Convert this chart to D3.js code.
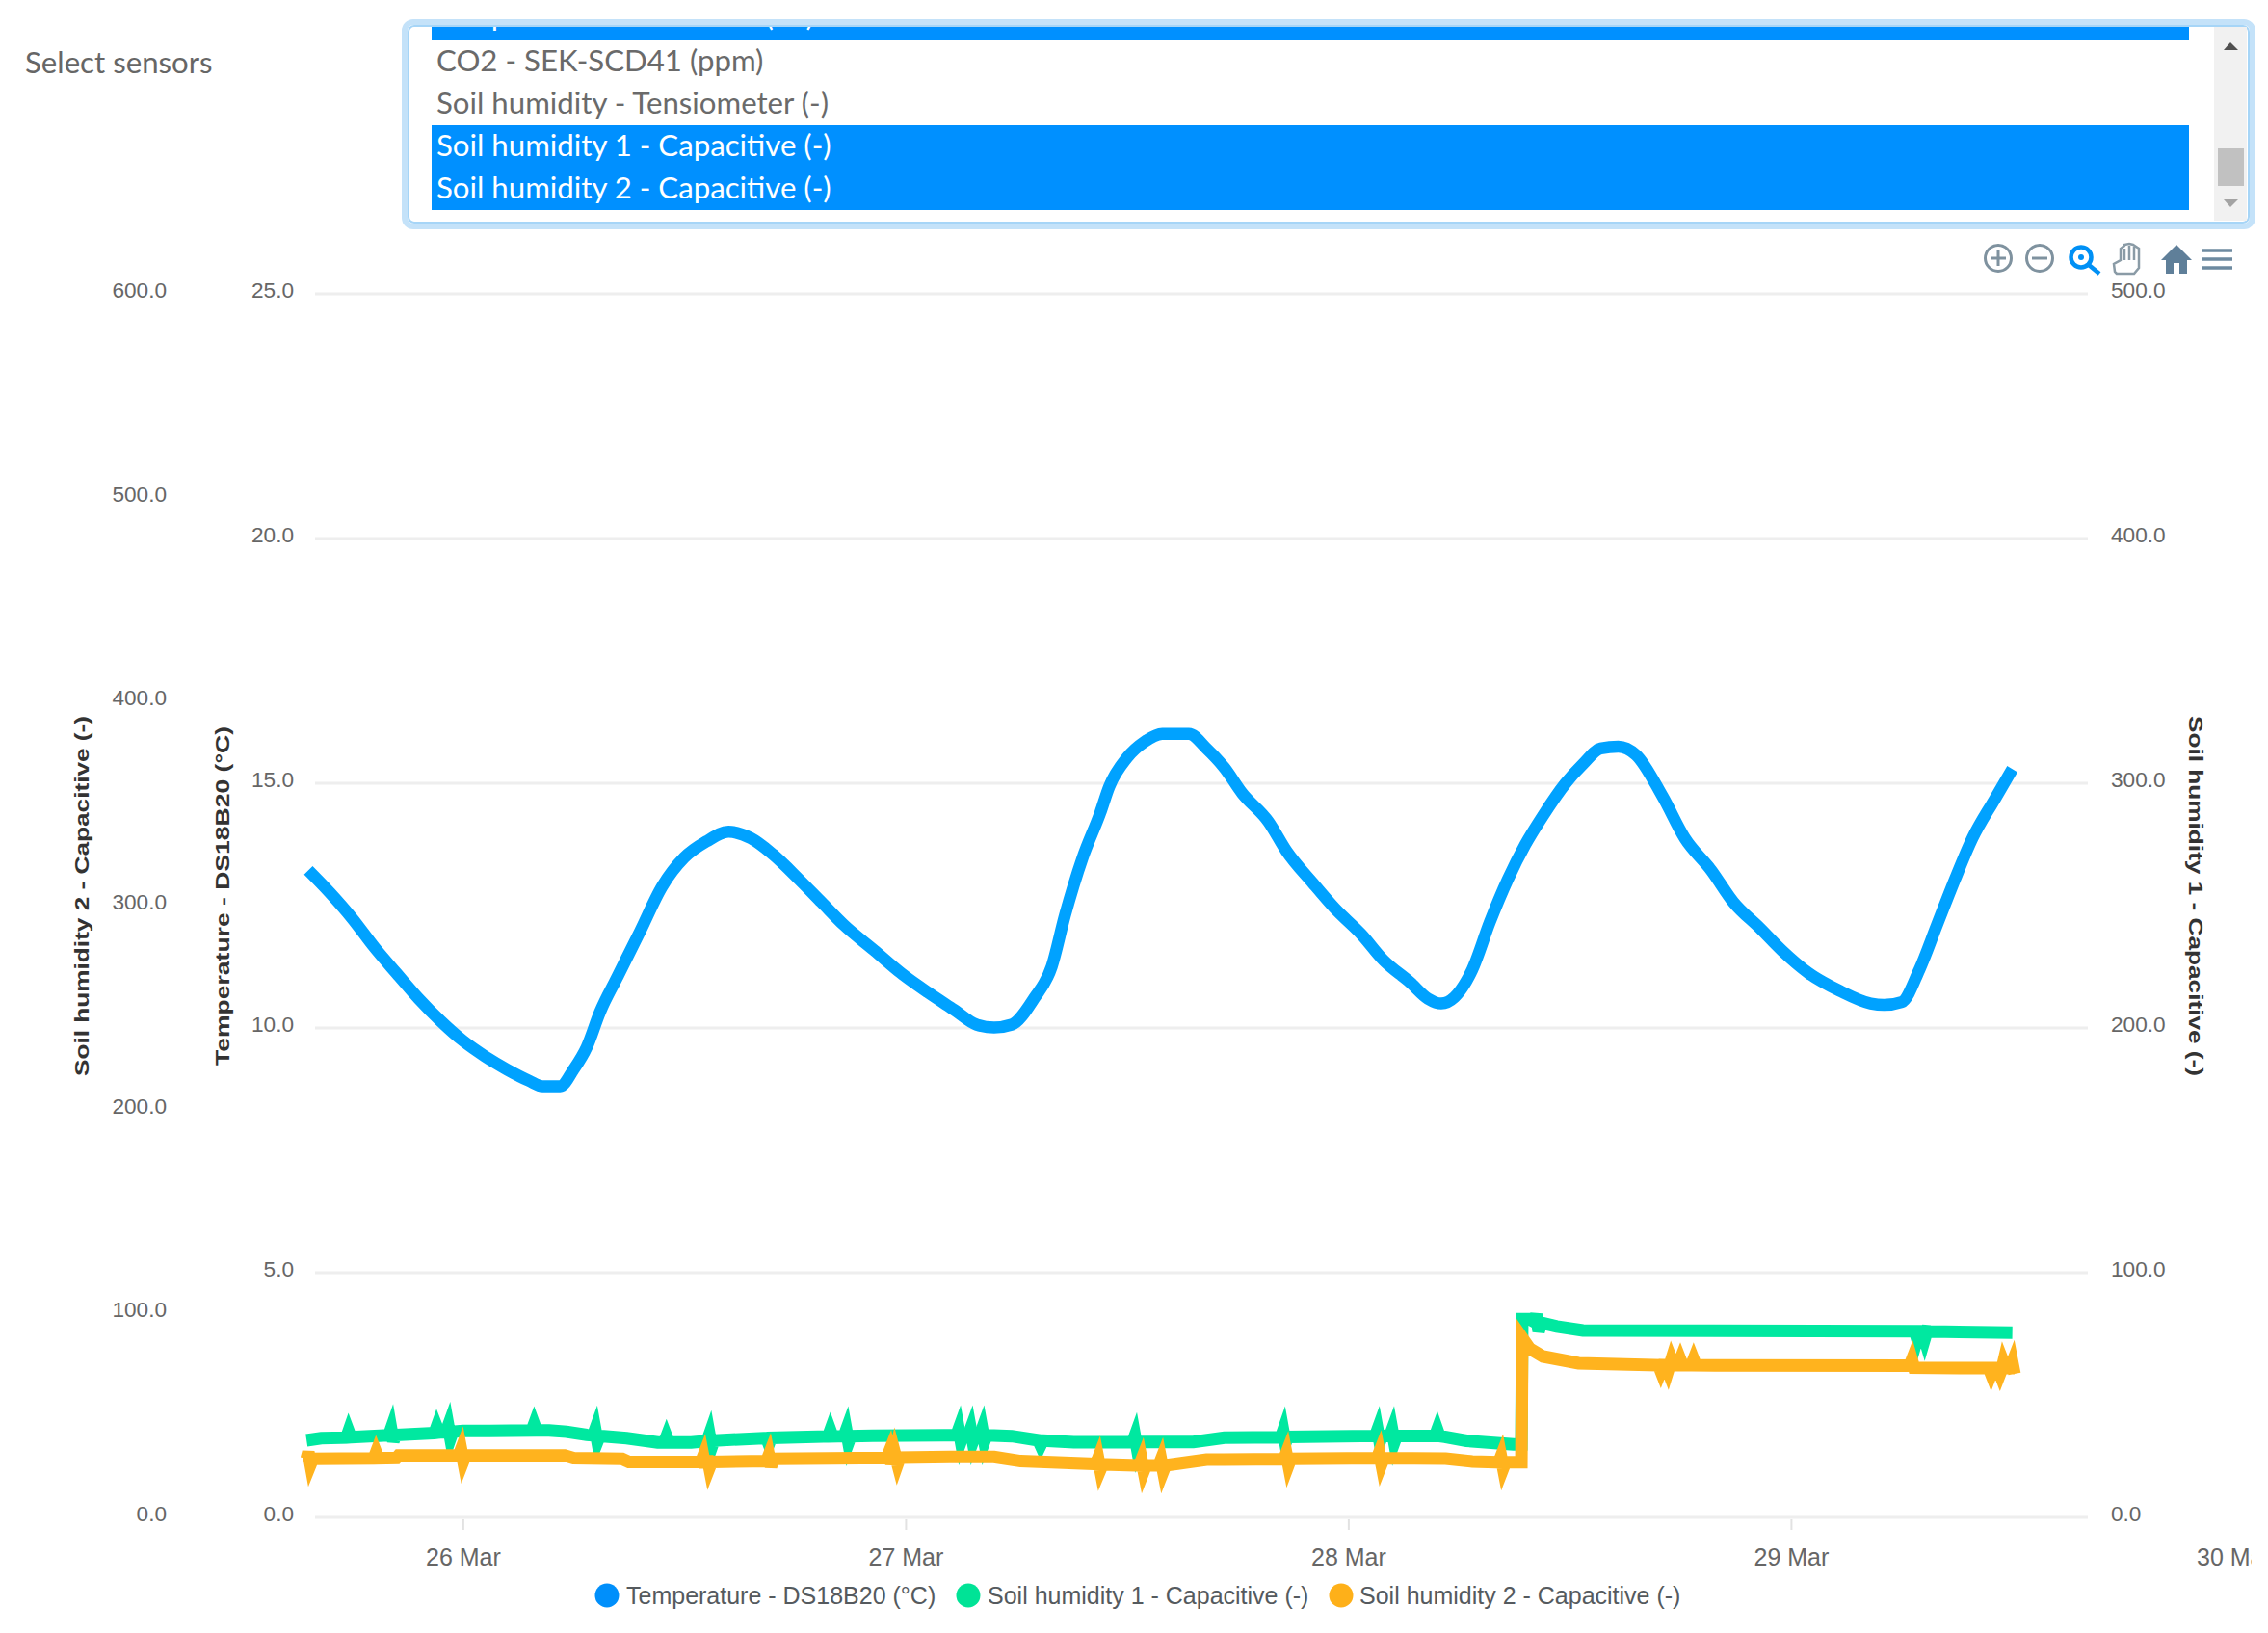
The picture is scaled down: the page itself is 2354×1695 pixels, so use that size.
<!DOCTYPE html>
<html><head><meta charset="utf-8">
<style>html,body{margin:0;padding:0;background:#fff;overflow:hidden}svg{display:block}
text{font-family:"Liberation Sans",Arial,sans-serif}
.ui{font-family:"Lato","Noto Sans",sans-serif}</style>
<script src="https://cdn.jsdelivr.net/npm/d3@7"></script></head><body>
<svg id="c" width="2354" height="1695"></svg>
<script>
const selectLabel = "Select sensors";
const selectOptions = ["Temperature - DS18B20 (°C)","CO2 - SEK-SCD41 (ppm)","Soil humidity - Tensiometer (-)","Soil humidity 1 - Capacitive (-)","Soil humidity 2 - Capacitive (-)"];
const selectedOptions = [true,false,false,true,true];
const seriesNames = ["Temperature - DS18B20 (°C)","Soil humidity 1 - Capacitive (-)","Soil humidity 2 - Capacitive (-)"];
const seriesColors = ["#00a2ff","#00e8a0","#ffb31e"];
const legendColors = ["#008ffb","#00e396","#feb019"];
const xTickDays = [26,27,28,29,30];
const tempTicks = [0,5,10,15,20,25];
const hum1Ticks = [0,100,200,300,400,500];
const hum2Ticks = [0,100,200,300,400,500,600];
const axisTitles = ["Soil humidity 2 - Capacitive (-)","Temperature - DS18B20 (°C)","Soil humidity 1 - Capacitive (-)"];

// [day of March, °C]
const temperature = [[25.651,13.22],[25.70,12.76],[25.75,12.24],[25.80,11.65],[25.85,11.12],[25.90,10.60],[25.95,10.14],[26.00,9.74],[26.05,9.42],[26.10,9.15],[26.15,8.92],[26.18,8.81],[26.22,8.81],[26.25,9.15],[26.28,9.61],[26.31,10.33],[26.35,11.06],[26.40,11.97],[26.45,12.89],[26.50,13.48],[26.55,13.81],[26.60,14.01],[26.65,13.88],[26.70,13.55],[26.76,13.03],[26.81,12.57],[26.86,12.11],[26.93,11.58],[26.99,11.12],[27.05,10.73],[27.11,10.37],[27.16,10.07],[27.20,10.01],[27.24,10.07],[27.29,10.60],[27.33,11.25],[27.36,12.30],[27.40,13.48],[27.44,14.40],[27.46,14.93],[27.50,15.52],[27.54,15.85],[27.58,16.01],[27.64,16.01],[27.68,15.71],[27.72,15.32],[27.76,14.80],[27.82,14.21],[27.86,13.62],[27.92,12.96],[27.97,12.44],[28.03,11.91],[28.08,11.38],[28.14,10.93],[28.18,10.60],[28.21,10.50],[28.24,10.63],[28.28,11.19],[28.32,12.17],[28.36,13.03],[28.40,13.75],[28.44,14.34],[28.49,14.99],[28.53,15.39],[28.57,15.71],[28.61,15.75],[28.65,15.58],[28.71,14.73],[28.76,13.88],[28.82,13.22],[28.87,12.57],[28.93,12.04],[28.98,11.58],[29.04,11.12],[29.11,10.76],[29.18,10.50],[29.21,10.47],[29.25,10.53],[29.29,11.19],[29.33,12.11],[29.37,13.03],[29.41,13.88],[29.46,14.67],[29.50,15.29]];

// [day of March, reading on the right axis]
const humidity1 = [[25.647,31.5],[25.68,32.4],[25.737,32.6],[25.742,35.2],[25.747,32.8],[25.833,33.6],[25.838,36.2],[25.843,31],[25.848,33.7],[25.936,34.5],[25.941,37],[25.946,34.7],[25.962,34.9],[25.967,37.4],[25.972,32.4],[25.977,35],[26.0,35.3],[26.156,35.5],[26.161,38],[26.166,35.5],[26.195,35.5],[26.234,35],[26.28,33.7],[26.294,33.5],[26.299,36],[26.304,31],[26.309,33.3],[26.37,32.4],[26.44,30.6],[26.455,30.6],[26.46,33],[26.465,30.6],[26.516,30.6],[26.552,31.2],[26.557,33.8],[26.562,28.8],[26.567,31.4],[26.68,32.4],[26.686,32.4],[26.691,30],[26.696,32.5],[26.825,33.1],[26.83,35.6],[26.835,33.1],[26.861,33.2],[26.866,35.7],[26.871,30.7],[26.876,33.2],[26.925,33.4],[27.087,33.6],[27.115,33.6],[27.12,36.1],[27.125,31.1],[27.13,33.6],[27.142,33.6],[27.147,36.1],[27.152,31.1],[27.157,33.6],[27.168,33.6],[27.173,36.1],[27.178,31.1],[27.183,33.6],[27.24,33.2],[27.30,31.5],[27.305,29.5],[27.31,31.4],[27.38,30.7],[27.513,30.7],[27.518,33.2],[27.523,28.2],[27.528,30.8],[27.65,30.8],[27.72,32.6],[27.848,32.8],[27.853,35.4],[27.858,30.4],[27.863,32.9],[28.061,33.3],[28.066,35.8],[28.071,30.8],[28.076,33.3],[28.094,33.3],[28.099,35.8],[28.104,30.8],[28.109,33.3],[28.196,33.3],[28.201,35.8],[28.206,33.2],[28.218,32.9],[28.267,31.3],[28.373,29.8],[28.391,29.8],[28.393,81],[28.41,81],[28.42,80],[28.425,83],[28.43,76],[28.436,79.5],[28.471,78],[28.53,76.4],[29.28,76.1],[29.285,73],[29.29,76.1],[29.297,76.1],[29.302,73],[29.307,76.1],[29.315,76],[29.50,75.5]];

// [day of March, reading on the far-left axis]
const humidity2 = [[25.647,28.7],[25.651,32],[25.656,26],[25.661,28.7],[25.799,28.9],[25.804,31.8],[25.809,29],[25.85,29.1],[25.855,30.4],[25.991,30.4],[25.996,33.3],[26.001,27.6],[26.006,30.4],[26.23,30.4],[26.25,29.1],[26.36,28.7],[26.375,27.2],[26.538,27.2],[26.543,30],[26.548,24.4],[26.552,30],[26.557,24.4],[26.562,27.2],[26.686,27.6],[26.691,30.4],[26.696,24.8],[26.701,28.7],[26.958,29.2],[26.963,32],[26.968,26.2],[26.975,32],[26.982,26.2],[26.987,29.3],[27.1,29.6],[27.2,29.6],[27.26,27.6],[27.43,26.2],[27.435,29],[27.44,23.4],[27.445,26],[27.528,25.5],[27.533,28.3],[27.538,22.7],[27.543,25.5],[27.572,25.5],[27.577,28.3],[27.582,22.7],[27.587,25.5],[27.68,28.3],[27.855,28.6],[27.86,31.4],[27.865,25.8],[27.87,28.7],[28.065,29],[28.07,31.8],[28.075,26.2],[28.08,29],[28.22,28.8],[28.28,27.4],[28.34,27],[28.345,29.8],[28.35,24.2],[28.355,27],[28.391,27],[28.393,88],[28.41,82.7],[28.44,78.9],[28.52,75.6],[28.701,74.6],[28.706,71.8],[28.711,74.6],[28.717,74.6],[28.722,71.8],[28.73,77.4],[28.735,74.6],[28.745,74.6],[28.75,77.4],[28.755,74.6],[28.775,74.6],[28.78,77.4],[28.785,74.6],[29.268,74.4],[29.273,77.2],[29.278,73.4],[29.447,73.2],[29.452,70.4],[29.457,73.2],[29.467,73.2],[29.472,70.4],[29.477,73.2],[29.48,76],[29.485,73.2],[29.495,73.2],[29.50,76],[29.505,70.4]];

const svg = d3.select("#c");
const toDate = d => new Date(Date.UTC(2022, 2, 1) + (d - 1) * 864e5);
const m = {left:327, right:2167, top:305, bottom:1575};
const x = d3.scaleTime().domain([toDate(26), toDate(30)]).range([480.4, 2318.4]);
const yTemp = d3.scaleLinear().domain([0,25]).range([m.bottom, m.top]);
const yH1 = d3.scaleLinear().domain([0,500]).range([m.bottom, m.top]);
const yH2 = d3.scaleLinear().domain([0,600]).range([m.bottom, m.top]);
const fmt = d3.format(".1f");
const TICK = "#666666";

// ---------- select box
const box = svg.append("g");
box.append("rect").attr("x",420).attr("y",23).attr("width",1918).attr("height",212).attr("rx",9)
   .attr("fill","#fff").attr("stroke","#c4e2f9").attr("stroke-width",6);
box.append("rect").attr("x",424).attr("y",27).attr("width",1910).attr("height",204).attr("rx",6)
   .attr("fill","none").attr("stroke","#a6d5f7").attr("stroke-width",2);
const defs = svg.append("defs");
defs.append("clipPath").attr("id","sel").append("rect").attr("x",426).attr("y",28).attr("width",1906).attr("height",201);
defs.append("clipPath").attr("id","xclip").append("rect").attr("x",-100).attr("y",0).attr("width",118).attr("height",60);
const rows = box.append("g").attr("clip-path","url(#sel)");
const rowH = 44, rowTop = -2;
selectOptions.forEach((t,i)=>{
  const y0 = rowTop + i*rowH;
  if(selectedOptions[i]) rows.append("rect").attr("x",448).attr("y",y0).attr("width",1824).attr("height",rowH).attr("fill","#0090ff").attr("shape-rendering","crispEdges");
  rows.append("text").attr("class","ui").attr("x",453).attr("y",y0+rowH/2+(i===0?7:10)).attr("font-size",31.2)
      .attr("fill",selectedOptions[i]?"#fff":"#6a6a6a").text(t);
});
rows.append("rect").attr("x",2298).attr("y",28).attr("width",34).attr("height",202).attr("fill","#f1f1f1");
rows.append("rect").attr("x",2302).attr("y",154).attr("width",27).attr("height",39).attr("fill","#c1c1c1");
rows.append("path").attr("d","M2308 52 L2315 44 L2323 52 Z").attr("fill","#505050");
rows.append("path").attr("d","M2308 207 L2323 207 L2315 215 Z").attr("fill","#a3a3a3");
svg.append("text").attr("class","ui").attr("x",26).attr("y",76).attr("font-size",31.2).attr("fill","#666").text(selectLabel);

// ---------- grid & axes
svg.append("g").selectAll("line").data(tempTicks).join("line")
  .attr("x1",m.left).attr("x2",m.right).attr("y1",d=>yTemp(d)).attr("y2",d=>yTemp(d))
  .attr("stroke","#eeeeee").attr("stroke-width",3);

function styleAxis(g, anchor){
  g.select(".domain").remove();
  g.selectAll(".tick line").remove();
  g.selectAll("text").attr("font-family","Liberation Sans").attr("font-size",22.6).attr("fill",TICK)
   .attr("text-anchor",anchor).attr("dy",0).attr("y",3.5);
}
svg.append("g").attr("transform","translate(173,0)")
  .call(d3.axisLeft(yH2).tickValues(hum2Ticks).tickFormat(fmt).tickSize(0).tickPadding(0))
  .call(g=>styleAxis(g,"end"));
svg.append("g").attr("transform","translate(305,0)")
  .call(d3.axisLeft(yTemp).tickValues(tempTicks).tickFormat(fmt).tickSize(0).tickPadding(0))
  .call(g=>styleAxis(g,"end"));
svg.append("g").attr("transform","translate(2191,0)")
  .call(d3.axisRight(yH1).tickValues(hum1Ticks).tickFormat(fmt).tickSize(0).tickPadding(0))
  .call(g=>styleAxis(g,"start"));

const xAxis = svg.append("g").attr("transform",`translate(0,${m.bottom+2})`)
  .call(d3.axisBottom(x).tickValues(xTickDays.map(toDate)).tickFormat(d3.utcFormat("%-d Mar")).tickSize(11).tickPadding(0));
xAxis.select(".domain").remove();
xAxis.selectAll(".tick line").attr("stroke","#e2e2e2").attr("stroke-width",2)
  .filter((d,i)=>i===xTickDays.length-1).remove();
xAxis.selectAll("text").attr("font-family","Liberation Sans").attr("font-size",25).attr("fill",TICK).attr("y",30).attr("dy",".71em");
xAxis.selectAll(".tick").filter((d,i)=>i===xTickDays.length-1).select("text").attr("clip-path","url(#xclip)");

[[85,axisTitles[0],374],[231,axisTitles[1],352],[2265,axisTitles[2],374]].forEach(([px,t,len],i)=>{
  svg.append("text").attr("transform",`translate(${px},930) rotate(${i===2?90:-90})`)
    .attr("text-anchor","middle").attr("dy",i===2?"-0.35em":"0.35em").attr("font-size",20).attr("font-weight","bold").attr("fill","#333")
    .attr("textLength",len).attr("lengthAdjust","spacingAndGlyphs").text(t);
});

// ---------- lines
const lineFor = (y, curve) => d3.line().x(d=>x(toDate(d[0]))).y(d=>y(d[1])).curve(curve);
[[temperature,yTemp,d3.curveMonotoneX,12.5],[humidity1,yH1,d3.curveLinear,13],[humidity2,yH2,d3.curveLinear,13]].forEach(([data,y,curve,sw],i)=>{
  svg.append("path").datum(data).attr("d",lineFor(y,curve)).attr("fill","none")
     .attr("stroke",seriesColors[i]).attr("stroke-width",sw)
     .attr("stroke-linejoin","miter").attr("stroke-miterlimit",4).attr("stroke-linecap","butt");
});

// ---------- legend
const legendDot = [630,1005,1392], legendText=[650,1025,1411];
seriesNames.forEach((t,i)=>{
  svg.append("circle").attr("cx",legendDot[i]).attr("cy",1656).attr("r",12.5).attr("fill",legendColors[i]);
  svg.append("text").attr("x",legendText[i]).attr("y",1665).attr("font-size",25).attr("fill","#555a5e").text(t);
});

// ---------- toolbar
const tb = svg.append("g").attr("fill","none");
const G="#7f929f", B="#0090f5", H="#5f7f99";
tb.append("circle").attr("cx",2074).attr("cy",268).attr("r",13.5).attr("stroke",G).attr("stroke-width",3);
tb.append("path").attr("d","M2066 268H2082M2074 260V276").attr("stroke",G).attr("stroke-width",3);
tb.append("circle").attr("cx",2117).attr("cy",268).attr("r",13.5).attr("stroke",G).attr("stroke-width",3);
tb.append("path").attr("d","M2109 268H2125").attr("stroke",G).attr("stroke-width",3);
tb.append("circle").attr("cx",2160).attr("cy",267).attr("r",10.5).attr("stroke",B).attr("stroke-width",4.5);
tb.append("circle").attr("cx",2160).attr("cy",267).attr("r",3).attr("fill",B);
tb.append("path").attr("d","M2168 275L2179 284").attr("stroke",B).attr("stroke-width",4.5);
tb.append("path").attr("d","M2197 284L2195 282L2194 274L2201 270V258L2205 255V254L2210 253L2214 254L2220 258V278L2215 284Z M2205 258V270M2210 255V270M2215 256V270").attr("stroke","#8a9ba6").attr("stroke-width",2.5);
tb.append("path").attr("d","M2259 254L2243 270H2248V284H2256V273H2262V284H2270V270H2275Z").attr("fill",H);
tb.append("path").attr("d","M2285 260H2317M2285 269H2317M2285 278H2317").attr("stroke","#6d8aa0").attr("stroke-width",3.5);
</script></body></html>
